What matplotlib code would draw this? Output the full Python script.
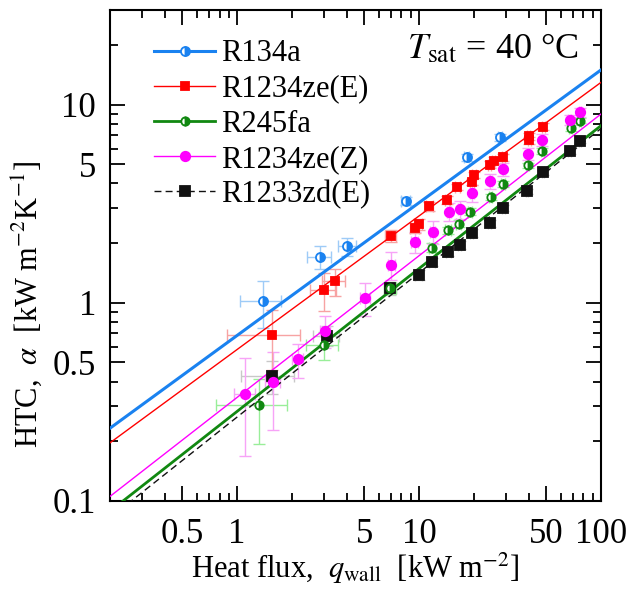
import numpy as np
import matplotlib
matplotlib.use("Agg")
import matplotlib.pyplot as plt
from matplotlib.lines import Line2D
from matplotlib.ticker import FixedLocator, NullFormatter, FixedFormatter

plt.rcParams['font.family'] = ['Liberation Serif', 'DejaVu Serif']
plt.rcParams['mathtext.fontset'] = 'stix'

# ---------------- data ----------------
names = ['R134a', 'R1234ze(E)', 'R245fa', 'R1234ze(Z)', 'R1233zd(E)']

q_r134a = [1.39, 2.84, 4.03, 8.43, 18.3, 27.9]
a_r134a = [1.02, 1.71, 1.93, 3.25, 5.42, 6.83]
qe_r134a = [0.35, 0.42, 0.46, 0.5, 0.6, 0.7]
ae_r134a = [0.27, 0.23, 0.2, 0.15, 0.2, 0.25]

q_r1234zeE = [1.55, 3.0, 3.43, 6.97, 9.44, 9.93, 11.4, 14.3, 16.2, 19.6, 20.0,
              24.4, 25.7, 29.0, 40.0, 40.3, 48.1]
a_r1234zeE = [0.69, 1.16, 1.28, 2.17, 2.39, 2.49, 3.07, 3.29, 3.84, 4.07, 4.40,
              4.98, 5.21, 5.42, 6.91, 6.60, 7.73]
qe_r1234zeE = [0.67, 0.5, 0.5, 0.5, 0.5, 0.5, 0.5, 0.5, 0.5, 0.5, 0.5,
               0.6, 0.6, 0.6, 0.7, 0.7, 0.8]
ae_r1234zeE = [0.23, 0.25, 0.2, 0.15, 0.15, 0.15, 0.15, 0.15, 0.15, 0.15, 0.15,
               0.2, 0.2, 0.2, 0.25, 0.25, 0.3]

q_r245fa = [1.32, 3.0, 6.95, 11.8, 14.4, 16.5, 19.1, 24.7, 28.9, 39.6, 47.5, 68.0, 76.2]
a_r245fa = [0.304, 0.615, 1.19, 1.90, 2.32, 2.51, 2.88, 3.42, 3.98, 4.94, 5.85, 7.6, 8.28]
qe_r245fa = [0.55, 0.6, 0.5, 0.5, 0.5, 0.5, 0.5, 0.6, 0.6, 0.7, 0.8, 1.0, 1.0]
ae_r245fa = [0.11, 0.1, 0.08, 0.1, 0.1, 0.1, 0.12, 0.12, 0.15, 0.15, 0.2, 0.25, 0.25]

q_r1234zeZ = [1.11, 1.57, 2.16, 3.05, 5.04, 7.03, 9.44, 11.9, 14.6, 16.7, 19.5,
              24.6, 29.1, 39.6, 47.5, 67.1, 76.2]
a_r1234zeZ = [0.348, 0.397, 0.519, 0.723, 1.06, 1.55, 2.03, 2.28, 2.88, 2.96, 3.56,
              4.10, 4.73, 5.65, 6.65, 8.38, 9.15]
qe_r1234zeZ = [0.15, 0.15, 0.15, 0.2, 0.3, 0.3, 0.4, 0.4, 0.4, 0.4, 0.5,
               0.5, 0.5, 0.6, 0.7, 0.9, 1.0]
ae_r1234zeZ = [0.18, 0.17, 0.1, 0.13, 0.2, 0.25, 0.25, 0.3, 0.3, 0.3, 0.35,
               0.35, 0.35, 0.4, 0.45, 0.5, 0.5]

q_r1233zdE = [1.55, 3.11, 6.95, 9.93, 11.8, 14.5, 16.7, 19.5, 24.4, 29.1, 39.1, 47.9, 67.1, 76.2]
a_r1233zdE = [0.426, 0.683, 1.18, 1.38, 1.61, 1.80, 1.96, 2.25, 2.52, 3.01, 3.65, 4.55, 5.8, 6.57]
qe_r1233zdE = [0.5, 0.5, 0.5, 0.4, 0.4, 0.4, 0.4, 0.4, 0.5, 0.5, 0.6, 0.7, 0.9, 1.0]
ae_r1233zdE = [0.08, 0.08, 0.08, 0.08, 0.08, 0.08, 0.1, 0.1, 0.1, 0.12, 0.12, 0.15, 0.2, 0.2]

# power-law fits alpha = C * q**n
fit_C = [0.684, 0.581, 0.283, 0.333, 0.265]
fit_n = [0.670, 0.674, 0.721, 0.715, 0.728]

x_major = [0.5, 1, 5, 10, 50, 100]
x_major_labels = ['0.5', '1', '5', '10', '50', '100']
y_major = [0.1, 0.5, 1, 5, 10]
y_major_labels = ['0.1', '0.5', '1', '5', '10']

# ---------------- style ----------------
colors = ['#1a82f0', '#ff0000', '#118811', '#ff00ff', '#111111']
ecolors = ['#9ecbf7', '#f7a3a3', '#99ee99', '#f7a3f7', '#c8c8c8']
markers = ['o', 's', 'o', 'o', 's']
fills = ['right', 'full', 'right', 'full', 'full']
msizes = [6.5, 6.0, 6.0, 6.8, 7.0]
lws = [2.2, 1.0, 2.0, 1.0, 1.0]
lss = ['-', '-', '-', '-', (0, (5, 3))]

series_q = [q_r134a, q_r1234zeE, q_r245fa, q_r1234zeZ, q_r1233zdE]
series_a = [a_r134a, a_r1234zeE, a_r245fa, a_r1234zeZ, a_r1233zdE]
series_qe = [qe_r134a, qe_r1234zeE, qe_r245fa, qe_r1234zeZ, qe_r1233zdE]
series_ae = [ae_r134a, ae_r1234zeE, ae_r245fa, ae_r1234zeZ, ae_r1233zdE]

fig = plt.figure(figsize=(6.32, 5.9), dpi=100)
ax = fig.add_axes([0.174, 0.151, 0.777, 0.832])
ax.set_xscale('log')
ax.set_yscale('log')
ax.set_xlim(0.2, 100)
ax.set_ylim(0.1, 30)

qq = np.logspace(np.log10(0.2), 2, 200)
order = [4, 2, 3, 1, 0]
for i in order:
    ax.plot(qq, fit_C[i] * qq ** fit_n[i], color=colors[i], lw=lws[i], ls=lss[i], zorder=3)

for i in order:
    ax.errorbar(series_q[i], series_a[i], xerr=series_qe[i], yerr=series_ae[i],
                fmt='none', ecolor=ecolors[i], elinewidth=1.0, capsize=4,
                capthick=1.0, zorder=2)
    ax.plot(series_q[i], series_a[i], ls='none', marker=markers[i],
            ms=msizes[i], mfc=colors[i], mec=colors[i], mew=1.3,
            fillstyle=fills[i], markerfacecoloralt='white', zorder=4)

ax.xaxis.set_major_locator(FixedLocator(x_major))
ax.xaxis.set_major_formatter(FixedFormatter(x_major_labels))
ax.yaxis.set_major_locator(FixedLocator(y_major))
ax.yaxis.set_major_formatter(FixedFormatter(y_major_labels))
xminor = [v for d in (0.1, 1, 10) for v in np.arange(2, 10) * d if v not in x_major]
yminor = [v for d in (0.1, 1, 10) for v in np.arange(2, 10) * d if v not in y_major]
ax.xaxis.set_minor_locator(FixedLocator(xminor))
ax.yaxis.set_minor_locator(FixedLocator(yminor))
ax.xaxis.set_minor_formatter(NullFormatter())
ax.yaxis.set_minor_formatter(NullFormatter())

ax.tick_params(which='both', direction='in', top=True, right=True, width=1.3)
ax.tick_params(which='major', length=11, labelsize=25)
ax.tick_params(which='minor', length=5.5)
ax.tick_params(axis='x', which='major', pad=12)
ax.tick_params(axis='y', which='major', pad=10)
for s in ax.spines.values():
    s.set_linewidth(1.5)

ax.set_xlabel(r'Heat flux,  $q_\mathrm{wall}$  [kW m$^{-2}$]', fontsize=22, labelpad=0)
ax.set_ylabel(r'HTC,  $\alpha$  [kW m$^{-2}$K$^{-1}$]', fontsize=22)
ax.yaxis.set_label_coords(-0.135, 0.40)

handles = []
for i in range(5):
    handles.append(Line2D([], [], color=colors[i], lw=lws[i], ls=lss[i],
                          marker=markers[i], ms=msizes[i], mfc=colors[i], mec=colors[i],
                          mew=1.3, fillstyle=fills[i], markerfacecoloralt='white'))
ax.legend(handles, names, loc='upper left', frameon=False,
          prop={'family': 'Liberation Serif', 'size': 22},
          handlelength=2.0, handletextpad=0.2, labelspacing=0.2,
          borderaxespad=0.0, bbox_to_anchor=(0.065, 0.965))

ax.text(0.955, 0.955, r'$T_\mathrm{sat}$ = 40 °C', transform=ax.transAxes,
        ha='right', va='top', fontsize=26)

fig.savefig('out.png', dpi=100)
